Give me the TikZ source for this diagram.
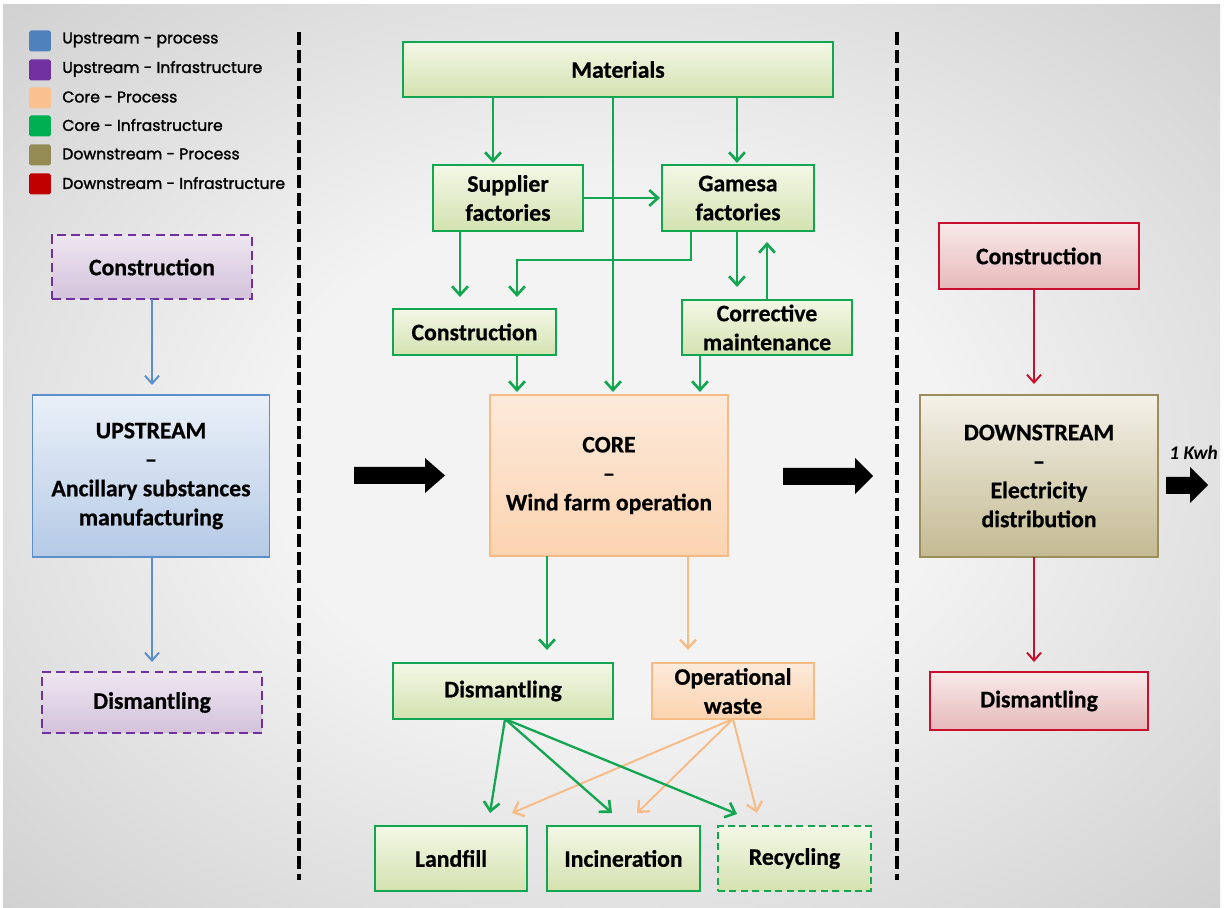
\documentclass[tikz,border=0pt]{standalone}
\usepackage{fontspec}
\setmainfont{Carlito}[BoldFeatures={FakeBold=0.6}]
\newfontfamily\legfont{Poppins}[FakeBold=1.6]
\usetikzlibrary{arrows.meta,calc}
\definecolor{gline}{HTML}{12A650}
\definecolor{gtop}{HTML}{F3F7E6}
\definecolor{gbot}{HTML}{D3E2B0}
\definecolor{pline}{HTML}{F8BB86}
\definecolor{ptop}{HTML}{FDEADB}
\definecolor{pbot}{HTML}{FBD3B0}
\definecolor{bline}{HTML}{5B8FCC}
\definecolor{btop}{HTML}{EAF0F8}
\definecolor{bbot}{HTML}{B5CAE6}
\definecolor{uline}{HTML}{7030A0}
\definecolor{utop}{HTML}{EEE6F1}
\definecolor{ubot}{HTML}{D3C2DB}
\definecolor{rline}{HTML}{C8102E}
\definecolor{rtop}{HTML}{F9E9E9}
\definecolor{rbot}{HTML}{E6B9BA}
\definecolor{oline}{HTML}{9A8F5A}
\definecolor{otop}{HTML}{F4F1E8}
\definecolor{obot}{HTML}{C3BA92}
\definecolor{legblue}{HTML}{4F81BD}
\definecolor{legpurple}{HTML}{7030A0}
\definecolor{legpeach}{HTML}{FAC090}
\definecolor{leggreen}{HTML}{00B050}
\definecolor{legolive}{HTML}{948A54}
\definecolor{legred}{HTML}{C00000}
\definecolor{bgin}{HTML}{F3F3F3}
\definecolor{bgout}{HTML}{BDBDBD}
\pgfdeclareradialshading{bgshade}{\pgfpoint{0bp}{0bp}}{color(0bp)=(bgin); color(14bp)=(bgin); color(48bp)=(bgout); color(80bp)=(bgout)}
\begin{document}
\begin{tikzpicture}[x=0.02cm,y=-0.02cm,
  box/.style={draw, line width=1.1pt, inner sep=0pt, outer sep=0pt, align=center,
    font=\bfseries\fontsize{13.5}{16.5}\selectfont, text=black},
  gbox/.style={box, draw=gline, top color=gtop, bottom color=gbot},
  pbox/.style={box, draw=pline, top color=ptop, bottom color=pbot},
  bbox/.style={box, draw=bline, top color=btop, bottom color=bbot},
  ubox/.style={box, draw=uline, top color=utop, bottom color=ubot, dashed, dash pattern=on 5pt off 3pt},
  rbox/.style={box, draw=rline, top color=rtop, bottom color=rbot},
  obox/.style={box, draw=oline, top color=otop, bottom color=obot},
  garrow/.style={draw=gline, line width=1.5pt, -{Straight Barb[length=5pt,width=9pt,line width=1.5pt]}},
  parrow/.style={draw=pline, line width=1.3pt, -{Straight Barb[length=5pt,width=9pt,line width=1.3pt]}},
  barrow/.style={draw=bline, line width=1.1pt, -{Straight Barb[length=4.5pt,width=8pt,line width=1.1pt]}},
  rarrow/.style={draw=rline, line width=1.1pt, -{Straight Barb[length=4.5pt,width=8pt,line width=1.1pt]}},
  sepline/.style={black, line width=2.3pt, dash pattern=on 7.4pt off 2.8pt},
  legsq/.style={minimum width=0.44cm, minimum height=0.42cm, inner sep=0pt, rounded corners=1pt},
  legtxt/.style={anchor=west, inner sep=0pt, font=\legfont\fontsize{8.9}{10}\selectfont, text=black},
  blockarrow/.style={fill=black}
]
% background
\fill[white] (0,0) rectangle (1224,908);
\shade[shading=bgshade] (3,5) rectangle (1220,908);
\useasboundingbox (0,0) rectangle (1224,908);

% legend
\node[legsq, fill=legblue]   (l1) at (40,41)  {};
\node[legsq, fill=legpurple] (l2) at (40,70)  {};
\node[legsq, fill=legpeach]  (l3) at (40,98)  {};
\node[legsq, fill=leggreen]  (l4) at (40,126) {};
\node[legsq, fill=legolive]  (l5) at (40,155) {};
\node[legsq, fill=legred]    (l6) at (40,184) {};
\node[legtxt] (t1) at (62,40)  {Upstream - process};
\node[legtxt] (t2) at (62,69)  {Upstream - Infrastructure};
\node[legtxt] (t3) at (62,97)  {Core - Process};
\node[legtxt] (t4) at (62,125) {Core - Infrastructure};
\node[legtxt] (t5) at (62,154) {Downstream - Process};
\node[legtxt] (t6) at (62,183) {Downstream - Infrastructure};

% separators
\draw[sepline] (299,32) -- (299,880);
\draw[sepline] (897,32) -- (897,880);

% left column
\node[ubox, minimum width=4.0cm, minimum height=1.28cm] (CL) at (152,267) {Construction};
\node[bbox, minimum width=4.74cm, minimum height=3.24cm] (UP) at (151,476) {UPSTREAM\\--\\Ancillary substances\\manufacturing};
\node[ubox, minimum width=4.4cm, minimum height=1.22cm] (DL) at (152,702.5) {Dismantling};
\draw[barrow, shorten >=0.2cm] (CL.south) -- (CL.south |- UP.north);
\draw[barrow, shorten >=0.2cm] (UP.south -| CL.south) -- (CL.south |- DL.north);

% right column
\node[rbox, minimum width=4.0cm, minimum height=1.32cm] (CR) at (1039,256) {Construction};
\node[obox, minimum width=4.76cm, minimum height=3.24cm] (DOWN) at (1039,476) {DOWNSTREAM\\--\\Electricity\\distribution};
\node[rbox, minimum width=4.36cm, minimum height=1.16cm] (DR) at (1039,701) {Dismantling};
\coordinate (xr) at (1034,0);
\draw[rarrow, shorten >=0.22cm] (xr |- CR.south) -- (xr |- DOWN.north);
\draw[rarrow, shorten >=0.2cm] (xr |- DOWN.south) -- (xr |- DR.north);

% center column
\node[gbox, minimum width=8.6cm, minimum height=1.1cm] (MAT) at (618,69.5) {Materials};
\node[gbox, minimum width=3.0cm, minimum height=1.32cm] (SUP) at (508,198) {Supplier\\factories};
\node[gbox, minimum width=3.04cm, minimum height=1.32cm] (GAM) at (738,198) {Gamesa\\factories};
\node[gbox, minimum width=3.26cm, minimum height=0.92cm] (CC) at (474.5,332) {Construction};
\node[gbox, minimum width=3.4cm, minimum height=1.1cm] (COR) at (767,327.5) {Corrective\\maintenance};
\node[pbox, minimum width=4.76cm, minimum height=3.22cm] (CORE) at (609,475.5) {CORE\\--\\Wind farm operation};
\node[gbox, minimum width=4.4cm, minimum height=1.12cm] (DC) at (503,691) {Dismantling};
\node[pbox, minimum width=3.24cm, minimum height=1.12cm] (OW) at (733,691) {Operational\\waste};
\node[gbox, minimum width=3.04cm, minimum height=1.3cm] (LF) at (451,858.5) {Landfill};
\node[gbox, minimum width=3.06cm, minimum height=1.3cm] (INC) at (623.5,858.5) {Incineration};
\node[gbox, minimum width=3.06cm, minimum height=1.3cm, dashed, dash pattern=on 4pt off 2.5pt, line width=0.9pt] (REC) at (794.5,858.5) {Recycling};

\coordinate (xa) at (493,0);
\coordinate (xb) at (737,0);
\coordinate (xc) at (613,0);
\coordinate (xd) at (460,0);
\coordinate (xe) at (691,0);
\coordinate (xf) at (517,0);
\coordinate (xh) at (767,0);
\coordinate (xi) at (700,0);
\coordinate (xj) at (547,0);
\coordinate (xk) at (688,0);
\coordinate (yel) at (0,260);

\draw[garrow, shorten >=0.04cm] (xa |- MAT.south) -- (xa |- SUP.north);
\draw[garrow, shorten >=0.04cm] (xb |- MAT.south) -- (xb |- GAM.north);
\draw[garrow, shorten >=0.06cm] (xc |- MAT.south) -- (xc |- CORE.north);
\draw[garrow, shorten >=0.04cm] (SUP.east) -- (GAM.west);
\draw[garrow, shorten >=0.24cm] (xd |- SUP.south) -- (xd |- CC.north);
\draw[garrow, shorten >=0.24cm] (xe |- GAM.south) -- (xe |- yel) -- (xf |- yel) -- (xf |- CC.north);
\draw[garrow, shorten >=0.26cm] (xb |- GAM.south) -- (xb |- COR.north);
\draw[garrow, shorten >=0.22cm] (xh |- COR.north) -- (xh |- GAM.south);
\draw[garrow, shorten >=0.06cm] (xf |- CC.south) -- (xf |- CORE.north);
\draw[garrow, shorten >=0.06cm] (xi |- COR.south) -- (xi |- CORE.north);
\draw[garrow, shorten >=0.26cm] (xj |- CORE.south) -- (xj |- DC.north);
\draw[parrow, shorten >=0.26cm] (xk |- CORE.south) -- (xk |- OW.north);

% waste fan
\coordinate (w1) at (512,813);
\coordinate (w2) at (637,813);
\coordinate (w3) at (757,813);
\coordinate (d1) at (490,813);
\coordinate (d2) at (612,813);
\coordinate (d3) at (737,814);
\draw[parrow, line width=1.1pt] (OW.south) -- (w1);
\draw[parrow, line width=1.1pt] (OW.south) -- (w2);
\draw[parrow, line width=1.1pt] (OW.south) -- (w3);
\draw[garrow, line width=1.3pt] ([xshift=0.04cm]DC.south) -- (d1);
\draw[garrow, line width=1.3pt] ([xshift=0.04cm]DC.south) -- (d2);
\draw[garrow, line width=1.3pt] ([xshift=0.04cm]DC.south) -- (d3);

% block arrows
\fill[blockarrow] (354,467) -- (425,467) -- (425,458) -- (445,475.5) -- (425,493) -- (425,484) -- (354,484) -- cycle;
\fill[blockarrow] (783,468) -- (855,468) -- (855,458) -- (873,476) -- (855,494) -- (855,485) -- (783,485) -- cycle;
\fill[blockarrow] (1166,477) -- (1190,477) -- (1190,467) -- (1208,485) -- (1190,503) -- (1190,494) -- (1166,494) -- cycle;
\node[anchor=west, inner sep=0pt, font=\bfseries\itshape\fontsize{11}{12}\selectfont] (kwh) at (1169,453) {1 Kwh};
\end{tikzpicture}
\end{document}
